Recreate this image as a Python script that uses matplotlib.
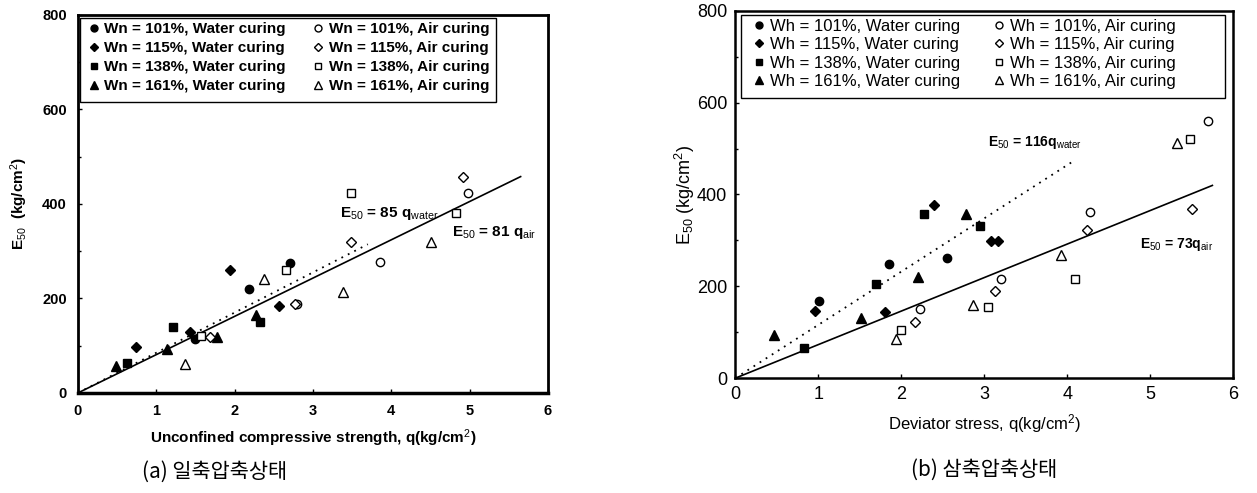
import matplotlib
matplotlib.use('Agg')
import matplotlib.pyplot as plt
from matplotlib.lines import Line2D
from matplotlib.patches import Rectangle
from matplotlib.ticker import MultipleLocator

# ---- (a) unconfined compression: q (kg/cm2), E50 (kg/cm2) ----
a_w101_q = [1.49, 2.18, 2.71]
a_w101_e = [115, 220, 274]
a_w115_q = [0.74, 1.43, 1.94, 2.57]
a_w115_e = [97, 128, 261, 183]
a_w138_q = [0.62, 1.21, 2.32]
a_w138_e = [63, 139, 149]
a_w161_q = [0.49, 1.14, 1.77, 2.27]
a_w161_e = [58, 93, 118, 164]
a_a101_q = [2.80, 3.85, 4.98]
a_a101_e = [188, 278, 422]
a_a115_q = [1.68, 2.77, 3.48, 4.91]
a_a115_e = [119, 188, 320, 456]
a_a138_q = [1.57, 2.65, 3.48, 4.82]
a_a138_e = [121, 260, 423, 381]
a_a161_q = [1.37, 2.38, 3.38, 4.50]
a_a161_e = [61, 240, 213, 320]
a_slope_water, a_qmax_water = 85, 3.7
a_slope_air, a_qmax_air = 81, 5.65

# ---- (b) triaxial compression ----
b_w101_q = [1.01, 1.85, 2.55]
b_w101_e = [168, 249, 262]
b_w115_q = [0.96, 1.80, 2.40, 3.08, 3.17]
b_w115_e = [147, 144, 378, 299, 299]
b_w138_q = [0.83, 1.70, 2.27, 2.95]
b_w138_e = [66, 204, 357, 331]
b_w161_q = [0.46, 1.51, 2.20, 2.78]
b_w161_e = [95, 132, 220, 357]
b_a101_q = [2.23, 3.20, 4.27, 5.70]
b_a101_e = [151, 216, 361, 559]
b_a115_q = [2.17, 3.13, 4.24, 5.50]
b_a115_e = [123, 190, 323, 368]
b_a138_q = [2.00, 3.04, 4.10, 5.48]
b_a138_e = [104, 155, 217, 521]
b_a161_q = [1.94, 2.86, 3.92, 5.32]
b_a161_e = [85, 159, 268, 513]
b_slope_water, b_qmax_water = 116, 4.05
b_slope_air, b_qmax_air = 73, 5.75

water_contents = ['101', '115', '138', '161']
shapes = ['o', 'D', 's', '^']
sizes = [6, 5, 6, 6.5]

a_series = [(a_w101_q, a_w101_e), (a_w115_q, a_w115_e), (a_w138_q, a_w138_e), (a_w161_q, a_w161_e),
            (a_a101_q, a_a101_e), (a_a115_q, a_a115_e), (a_a138_q, a_a138_e), (a_a161_q, a_a161_e)]
b_series = [(b_w101_q, b_w101_e), (b_w115_q, b_w115_e), (b_w138_q, b_w138_e), (b_w161_q, b_w161_e),
            (b_a101_q, b_a101_e), (b_a115_q, b_a115_e), (b_a138_q, b_a138_e), (b_a161_q, b_a161_e)]

NARROW = ['Liberation Sans Narrow', 'Liberation Sans', 'DejaVu Sans']
SANS = ['Liberation Sans', 'DejaVu Sans']
plt.rcParams['mathtext.fontset'] = 'custom'
plt.rcParams['mathtext.rm'] = 'Liberation Sans'
plt.rcParams['mathtext.it'] = 'Liberation Sans'
plt.rcParams['mathtext.bf'] = 'Liberation Sans:bold'


def draw_panel(ax, series, prefix, slopes, family, weight, spine_w):
    handles = []
    for i, (q, e) in enumerate(series):
        k = i % 4
        filled = i < 4
        mfc = 'k' if filled else 'white'
        ax.plot(q, e, linestyle='none', marker=shapes[k], ms=sizes[k],
                mfc=mfc, mec='k', mew=1.0, zorder=3)
        cure = 'Water curing' if filled else 'Air curing'
        handles.append(Line2D([], [], linestyle='none', marker=shapes[k],
                              ms=sizes[k] - 1, mfc=mfc, mec='k', mew=1.0,
                              label=f'{prefix} = {water_contents[k]}%, {cure}'))

    (sw, qw), (sa, qa) = slopes
    ax.plot([0, qw], [0, sw * qw], color='k', lw=1.3, linestyle=(0, (1, 3)))
    ax.plot([0, qa], [0, sa * qa], color='k', lw=1.2)

    ax.set_xlim(0, 6)
    ax.set_ylim(0, 800)
    ax.xaxis.set_major_locator(MultipleLocator(1))
    ax.yaxis.set_major_locator(MultipleLocator(200))
    ax.yaxis.set_minor_locator(MultipleLocator(100))
    ax.tick_params(which='both', direction='in', length=3, width=1)
    ax.tick_params(which='minor', length=2)
    for s in ax.spines.values():
        s.set_linewidth(spine_w)
        s.set_color('k')
    for lab in ax.get_xticklabels() + ax.get_yticklabels():
        lab.set_family(family)
        lab.set_weight(weight)
    return handles


def boxed_legend(ax, handles, anchor, box, prop, colspace, rowspace):
    # legend without its own frame; the box is a plain rectangle in axes units
    ax.legend(handles=handles, ncol=2, loc='upper left', bbox_to_anchor=anchor,
              frameon=False, borderaxespad=0, borderpad=0, handletextpad=0.2,
              handlelength=1.0, columnspacing=colspace, labelspacing=rowspace, prop=prop)
    x0, y0, x1, y1 = box
    ax.add_patch(Rectangle((x0, y0), x1 - x0, y1 - y0, transform=ax.transAxes,
                           fill=True, fc='white', ec='k', lw=1.0, zorder=2.5))


fig = plt.figure(figsize=(12.57, 4.93), dpi=100)

# (a) unconfined
ax1 = fig.add_axes([0.062, 0.203, 0.374, 0.767])
h1 = draw_panel(ax1, a_series, 'Wn', [(a_slope_water, a_qmax_water), (a_slope_air, a_qmax_air)],
                NARROW, 'bold', 2.0)
ax1.spines['bottom'].set_linewidth(2.5)
ax1.tick_params(labelsize=10.5, pad=8)
boxed_legend(ax1, h1, (0.017, 0.98), (0.004, 0.77, 0.89, 0.992),
             {'family': NARROW, 'weight': 'bold', 'size': 11}, 1.6, 0.32)
ax1.set_xlabel('Unconfined compressive strength, q(kg/cm$^2$)', family=NARROW,
               weight='bold', fontsize=11, labelpad=7)
ax1.set_ylabel('E$_{50}$  (kg/cm$^2$)', family=NARROW, weight='bold', fontsize=11, labelpad=9)
ax1.text(3.35, 372, r'E$_{50}$ = 85 q$_{water}$', family=NARROW, weight='bold', fontsize=11)
ax1.text(4.78, 333, r'E$_{50}$ = 81 q$_{air}$', family=NARROW, weight='bold', fontsize=11)

# (b) triaxial
ax2 = fig.add_axes([0.585, 0.233, 0.396, 0.745])
h2 = draw_panel(ax2, b_series, 'Wh', [(b_slope_water, b_qmax_water), (b_slope_air, b_qmax_air)],
                SANS, 'normal', 1.8)
ax2.tick_params(labelsize=13, pad=6)
boxed_legend(ax2, h2, (0.030, 0.978), (0.012, 0.762, 0.984, 0.989),
             {'family': SANS, 'size': 12}, 1.8, 0.2)
ax2.set_xlabel('Deviator stress, q(kg/cm$^2$)', family=SANS, fontsize=12, labelpad=6)
ax2.set_ylabel('E$_{50}$ (kg/cm$^2$)', family=SANS, fontsize=13, labelpad=0)
ax2.text(3.05, 505, r'E$_{50}$ = 116q$_{water}$', family=SANS, weight='bold', fontsize=10)
ax2.text(4.88, 283, r'E$_{50}$ = 73q$_{air}$', family=SANS, weight='bold', fontsize=10)

cap = ['Noto Sans CJK KR', 'DejaVu Sans']
fig.text(0.171, 0.03, '(a) 일축압축상태', family=cap, fontsize=15, ha='center')
fig.text(0.783, 0.035, '(b) 삼축압축상태', family=cap, fontsize=15, ha='center')

fig.savefig('out.png', dpi=100)
